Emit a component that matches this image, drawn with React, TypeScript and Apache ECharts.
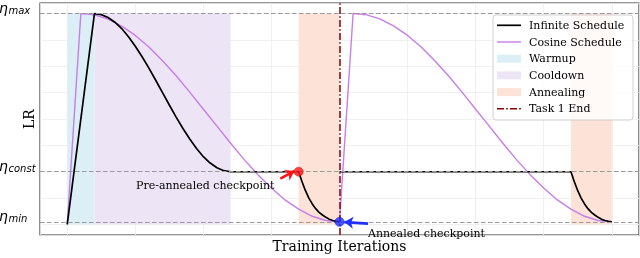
import React, { useEffect, useRef } from "react";
import * as echarts from "echarts";

// ---- data ----
const ETA_MAX = 8;
const ETA_CONST = 2;
const ETA_MIN = 0.1;
const ETA_LEVELS = [ETA_MAX, ETA_CONST, ETA_MIN];
const ETA_SUBSCRIPTS = ["max", "const", "min"];

const INFINITE_X = [
  0, 40, 50, 60, 70, 80, 90, 100, 110, 120, 130, 140, 150, 160, 170, 180, 190, 200, 210, 220, 230, 240,
  340, 345, 350, 355, 360, 365, 370, 375, 380, 385, 390, 395, 400,
  400,
  400, 740, 745, 750, 755, 760, 765, 770, 775, 780, 785, 790, 795, 800,
];
const INFINITE_Y: (number | string)[] = [
  0, 8, 7.96, 7.85, 7.67, 7.43, 7.12, 6.76, 6.36, 5.93, 5.47, 5.0, 4.53, 4.07, 3.64, 3.24, 2.88, 2.57, 2.33, 2.15, 2.04, 2.0,
  2.0, 1.62, 1.28, 1.0, 0.78, 0.6, 0.46, 0.36, 0.27, 0.2, 0.15, 0.12, 0.1,
  "-",
  2.0, 2.0, 1.62, 1.28, 1.0, 0.78, 0.6, 0.46, 0.36, 0.27, 0.2, 0.15, 0.12, 0.1,
];

const COSINE_X = [
  0, 20, 40, 60, 80, 100, 120, 140, 160, 180, 200, 220, 240, 260, 280, 300, 320, 340, 360, 380, 400,
  420, 440, 460, 480, 500, 520, 540, 560, 580, 600, 620, 640, 660, 680, 700, 720, 740, 760, 780, 800,
];
const COSINE_Y = [
  0, 8.0, 7.95, 7.79, 7.52, 7.17, 6.73, 6.21, 5.64, 5.02, 4.37, 3.73, 3.08, 2.46, 1.89, 1.38, 0.93, 0.58, 0.31, 0.15, 0.1,
  8.0, 7.95, 7.79, 7.52, 7.17, 6.73, 6.21, 5.64, 5.02, 4.37, 3.73, 3.08, 2.46, 1.89, 1.38, 0.93, 0.58, 0.31, 0.15, 0.1,
];

const WARMUP_RANGES = [[0, 40]];
const COOLDOWN_RANGES = [[40, 240]];
const ANNEALING_RANGES = [[340, 400], [740, 800]];
const TASK_END_X = 400;
const PRE_ANNEALED = [340, 2.0];
const ANNEALED = [400, 0.1];

const LEGEND_LABELS = ["Infinite Schedule", "Cosine Schedule", "Warmup", "Cooldown", "Annealing", "Task 1 End"];

// ---- styles ----
const SERIF = "DejaVu Serif";
const C_BLACK = "#000000";
const C_COS = "#c77dea";
const C_WARM = "#dceff7";
const C_COOL = "#ede5f5";
const C_ANNEAL = "#fde2d8";
const C_TASK = "#8b0000";
const C_REF = "#9a9a9a";
const TASK_DASH = [7, 2.2, 1.6, 2.2];

function areaSeries(name: string, ranges: number[][], color: string) {
  return {
    name,
    type: "line",
    data: [],
    silent: true,
    z: 1,
    markArea: {
      silent: true,
      itemStyle: { color, opacity: 1 },
      data: ranges.map((r) => [{ xAxis: r[0], yAxis: 0 }, { xAxis: r[1], yAxis: ETA_MAX }]),
    },
  };
}

export default function App() {
  const ref = useRef<HTMLDivElement>(null);
  useEffect(() => {
    if (!ref.current) return;
    const chart = echarts.init(ref.current, null, { renderer: "svg" });
    const option: any = {
      animation: false,
      grid: { left: 40, top: 3, right: 1, bottom: 18, show: true, borderColor: "#333333", borderWidth: 1.1, backgroundColor: "transparent" },
      xAxis: {
        type: "value",
        min: -40,
        max: 840,
        splitNumber: 9,
        axisLine: { show: false },
        axisTick: { show: false },
        axisLabel: { show: false },
        splitLine: { show: true, lineStyle: { color: "#ececec", width: 0.8 } },
        name: "Training Iterations",
        nameLocation: "middle",
        nameGap: 4,
        nameTextStyle: { fontFamily: SERIF, fontSize: 14, color: "#000", verticalAlign: "top" },
      },
      yAxis: {
        type: "value",
        min: -0.4,
        max: 8.4,
        splitNumber: 9,
        axisLine: { show: false },
        axisTick: { show: false },
        axisLabel: { show: false },
        splitLine: { show: true, lineStyle: { color: "#ececec", width: 0.8 } },
        name: "LR",
        nameLocation: "middle",
        nameGap: 4,
        nameTextStyle: { fontFamily: SERIF, fontSize: 14, color: "#000" },
      },
      series: [
        areaSeries("Warmup", WARMUP_RANGES, C_WARM),
        areaSeries("Cooldown", COOLDOWN_RANGES, C_COOL),
        areaSeries("Annealing", ANNEALING_RANGES, C_ANNEAL),
        {
          name: "Cosine Schedule",
          type: "line",
          data: COSINE_X.map((x, i) => [x, COSINE_Y[i]]),
          showSymbol: false,
          symbol: "none",
          z: 3,
          lineStyle: { color: C_COS, width: 1.4 },
        },
        {
          name: "Infinite Schedule",
          type: "line",
          data: INFINITE_X.map((x, i) => [x, INFINITE_Y[i]]),
          showSymbol: false,
          symbol: "none",
          connectNulls: false,
          z: 4,
          lineStyle: { color: C_BLACK, width: 1.7 },
        },
        {
          name: "ref",
          type: "line",
          data: [],
          z: 5,
          markLine: {
            silent: true,
            symbol: "none",
            label: { show: false },
            lineStyle: { color: C_REF, type: [4.5, 2.5], width: 1.1 },
            data: ETA_LEVELS.map((v) => ({ yAxis: v })),
          },
        },
        {
          name: "Task 1 End",
          type: "line",
          data: [],
          z: 6,
          markLine: {
            silent: true,
            symbol: "none",
            label: { show: false },
            lineStyle: { color: C_TASK, type: TASK_DASH, width: 1.5 },
            data: [{ xAxis: TASK_END_X }],
          },
        },
        {
          name: "checkpoints",
          type: "scatter",
          z: 8,
          symbolSize: 9,
          data: [
            { value: PRE_ANNEALED, itemStyle: { color: "#ff1414", borderColor: "#c00000", borderWidth: 0.6 } },
            { value: ANNEALED, itemStyle: { color: "#2030ff", borderColor: "#10109a", borderWidth: 0.6 } },
          ],
          markLine: {
            silent: true,
            symbol: ["none", "arrow"],
            symbolSize: [9, 9],
            label: { show: false },
            data: [
              [
                { coord: [313, 1.74], lineStyle: { color: "#ff1414", width: 2.6, type: "solid" } },
                { coord: [334, 2.03] },
              ],
              [
                { coord: [442, 0.03], lineStyle: { color: "#2030ff", width: 2.6, type: "solid" } },
                { coord: [407, 0.09] },
              ],
            ],
          },
        },
      ],
    };
    chart.setOption(option);

    const graphic: any[] = [];
    // eta tick labels
    ETA_LEVELS.forEach((v, i) => {
      const p = chart.convertToPixel({ gridIndex: 0 }, [0, v]) as number[];
      graphic.push({
        type: "text",
        x: -1,
        y: p[1] - 5.5,
        style: { text: "η", fontFamily: "DejaVu Sans", fontStyle: "italic", fontSize: 14, fill: "#000", verticalAlign: "middle", align: "left" },
      });
      graphic.push({
        type: "text",
        x: 8.5,
        y: p[1] - 3.5,
        style: { text: ETA_SUBSCRIPTS[i], fontFamily: "DejaVu Sans", fontStyle: "italic", fontSize: 10, fill: "#000", verticalAlign: "middle", align: "left" },
      });
    });
    // annotations
    graphic.push({
      type: "text", x: 136, y: 185, z: 20,
      style: { text: "Pre-annealed checkpoint", fontFamily: SERIF, fontSize: 11, fill: "#000", verticalAlign: "middle" },
    });
    graphic.push({
      type: "text", x: 368, y: 233, z: 20,
      style: { text: "Annealed checkpoint", fontFamily: SERIF, fontSize: 11, fill: "#000", verticalAlign: "middle" },
    });
    // legend
    const lx = 493, ly = 15, lw = 140, lh = 105;
    graphic.push({ type: "rect", z: 30, shape: { x: lx, y: ly, width: lw, height: lh, r: 3 }, style: { fill: "rgba(255,255,255,0.8)", stroke: "#d0d0d0", lineWidth: 1 } });
    const rowY0 = 25.3, rowStep = 16.7, hx = 497, hw = 24;
    LEGEND_LABELS.forEach((label, i) => {
      const y = rowY0 + i * rowStep;
      if (i === 0 || i === 1) {
        graphic.push({ type: "line", z: 31, shape: { x1: hx, y1: y, x2: hx + hw, y2: y }, style: { stroke: i === 0 ? C_BLACK : C_COS, lineWidth: i === 0 ? 1.7 : 1.4 } });
      } else if (i === 5) {
        graphic.push({ type: "line", z: 31, shape: { x1: hx, y1: y, x2: hx + hw, y2: y }, style: { stroke: C_TASK, lineWidth: 1.5, lineDash: TASK_DASH } });
      } else {
        const fill = i === 2 ? C_WARM : i === 3 ? C_COOL : C_ANNEAL;
        graphic.push({ type: "rect", z: 31, shape: { x: hx, y: y - 4, width: hw, height: 8 }, style: { fill } });
      }
      graphic.push({ type: "text", z: 31, x: 529, y, style: { text: label, fontFamily: SERIF, fontSize: 11, fill: "#000", verticalAlign: "middle" } });
    });
    chart.setOption({ graphic });

    return () => chart.dispose();
  }, []);
  return <div ref={ref} style={{ position: "fixed", left: 0, top: 0, width: 640, height: 258 }} />;
}
